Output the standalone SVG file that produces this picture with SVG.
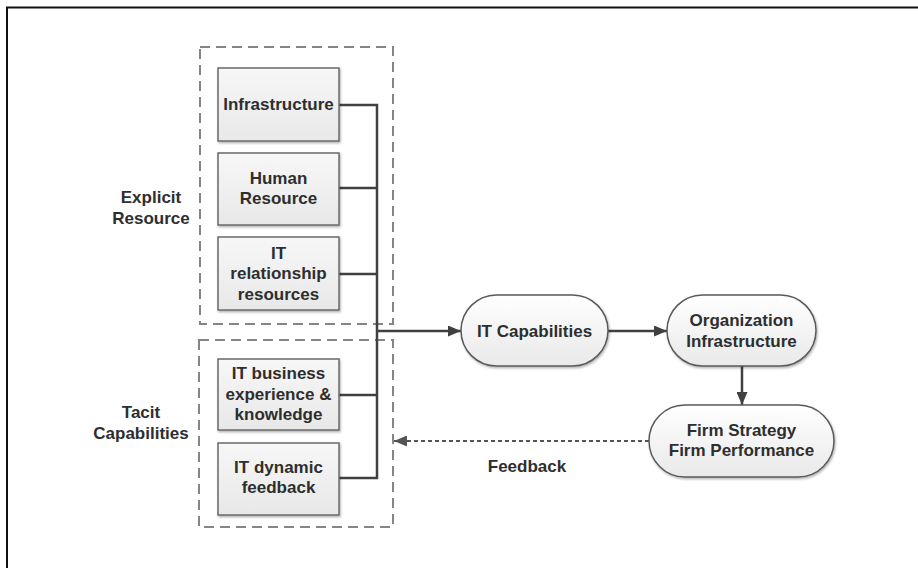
<svg xmlns="http://www.w3.org/2000/svg" width="918" height="568" viewBox="0 0 918 568">
<defs>
<linearGradient id="gBox" x1="0" y1="0" x2="0" y2="1">
<stop offset="0" stop-color="#f7f7f7"/><stop offset="1" stop-color="#e8e8e8"/>
</linearGradient>
<linearGradient id="gPill" x1="0" y1="0" x2="0" y2="1">
<stop offset="0" stop-color="#ffffff"/><stop offset="1" stop-color="#e9e9e9"/>
</linearGradient>
<filter id="sh" x="-10%" y="-10%" width="120%" height="130%">
<feDropShadow dx="1" dy="1.5" stdDeviation="1" flood-color="#000" flood-opacity="0.3"/>
</filter>
<marker id="ah" markerWidth="13" markerHeight="11" refX="13" refY="5.5" orient="auto" markerUnits="userSpaceOnUse">
<path d="M0,0 L13,5.5 L0,11 Z" fill="#404040"/>
</marker>
<marker id="ahd" markerWidth="13" markerHeight="11" refX="13" refY="5.5" orient="auto" markerUnits="userSpaceOnUse">
<path d="M0,0 L13,5.5 L0,11 Z" fill="#555"/>
</marker>
</defs>
<style>
text{font-family:"Liberation Sans",Arial,sans-serif;font-weight:bold;font-size:17px;fill:#2e2e2e;text-anchor:middle}
.box{fill:url(#gBox);stroke:#6a6a6a;stroke-width:1.5;filter:url(#sh)}
.pill{fill:url(#gPill);stroke:#5a5a5a;stroke-width:1.5;filter:url(#sh)}
.grp{fill:none;stroke:#858585;stroke-width:2;stroke-dasharray:10,6}
.ln{fill:none;stroke:#404040;stroke-width:2.5}
.dash{fill:none;stroke:#555;stroke-width:2;stroke-dasharray:4,3}
</style>
<rect width="918" height="568" fill="#fff"/>
<rect x="7" y="7.5" width="1000" height="1000" fill="none" stroke="#111" stroke-width="2"/>

<g id="explicit-group">
<rect class="grp" x="200" y="47" width="193" height="277"/>
<text x="151" y="203">Explicit</text>
<text x="151" y="224">Resource</text>
</g>
<g id="tacit-group">
<rect class="grp" x="199" y="340" width="194" height="187"/>
<text x="141" y="418">Tacit</text>
<text x="141" y="439">Capabilities</text>
</g>

<g id="connectors">
<path class="ln" d="M339,105 H377 V478 H339"/>
<path class="ln" d="M339,188 H377"/>
<path class="ln" d="M339,274 H377"/>
<path class="ln" d="M339,395 H377"/>
<path class="ln" d="M377,331 H461" marker-end="url(#ah)"/>
<path class="ln" d="M608,331 H667" marker-end="url(#ah)"/>
<path class="ln" d="M742,366 V405" marker-end="url(#ah)"/>
<path class="dash" d="M649,441 H394" marker-end="url(#ahd)"/>
<text x="527" y="472">Feedback</text>
</g>

<g id="infrastructure">
<rect class="box" x="218" y="68" width="121" height="73"/>
<text x="278.5" y="110">Infrastructure</text>
</g>
<g id="human-resource">
<rect class="box" x="218" y="153" width="121" height="72"/>
<text x="278.5" y="184">Human</text>
<text x="278.5" y="204">Resource</text>
</g>
<g id="it-relationship">
<rect class="box" x="218" y="237" width="121" height="73"/>
<text x="278.5" y="259">IT</text>
<text x="278.5" y="279">relationship</text>
<text x="278.5" y="300">resources</text>
</g>
<g id="it-business">
<rect class="box" x="218" y="359" width="121" height="71"/>
<text x="278.5" y="379">IT business</text>
<text x="278.5" y="400">experience &amp;</text>
<text x="278.5" y="420">knowledge</text>
</g>
<g id="it-dynamic">
<rect class="box" x="218" y="443" width="121" height="72"/>
<text x="278.5" y="473">IT dynamic</text>
<text x="278.5" y="493">feedback</text>
</g>

<g id="it-capabilities">
<rect class="pill" x="461" y="295" width="147" height="71" rx="35.5"/>
<text x="534.5" y="337">IT Capabilities</text>
</g>
<g id="organization-infrastructure">
<rect class="pill" x="667" y="295" width="149" height="71" rx="35.5"/>
<text x="741.5" y="326">Organization</text>
<text x="741.5" y="347">Infrastructure</text>
</g>
<g id="firm-strategy">
<rect class="pill" x="649" y="405" width="185" height="72" rx="36"/>
<text x="741.5" y="436">Firm Strategy</text>
<text x="741.5" y="456">Firm Performance</text>
</g>
</svg>
